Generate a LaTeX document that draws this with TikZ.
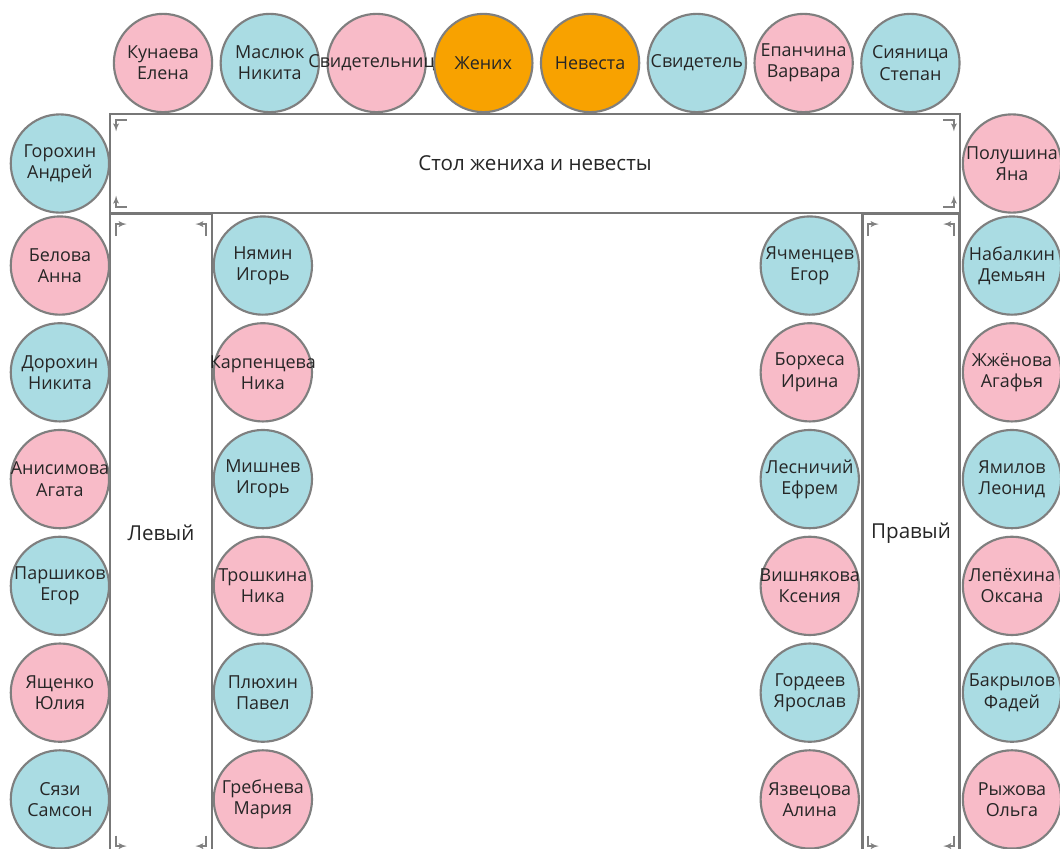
\documentclass[tikz,border=0pt]{standalone}
\usepackage{fontspec}
\newfontfamily\opensans{Open Sans}
\usetikzlibrary{shapes,arrows,positioning}
\definecolor{seatpink}{HTML}{F8BBC8}
\definecolor{seatblue}{HTML}{AADCE3}
\definecolor{seatorange}{HTML}{F8A200}
\definecolor{seatline}{HTML}{7F7F7F}
\definecolor{tableline}{HTML}{777777}
\newcommand{\seatfont}{\opensans\fontsize{13.5}{16}\selectfont}
\newcommand{\tablefont}{\opensans\fontsize{15.5}{18}\selectfont}
\tikzstyle{guest} = [circle, draw=seatline, line width=1.6pt,
   minimum size=2.6cm, inner sep=0pt]
\tikzstyle{she} = [guest, fill=seatpink]
\tikzstyle{he} = [guest, fill=seatblue]
\tikzstyle{couple} = [guest, fill=seatorange]
\tikzstyle{guestname} = [font=\seatfont, text=black!85, align=center, inner sep=0pt]
\tikzstyle{tablebox} = [rectangle, draw=tableline, line width=2.2pt, fill=white,
   font=\tablefont, text=black!85]
\tikzstyle{grip} = [draw=gray, line width=1.1pt, -latex']

\begin{document}
\begin{tikzpicture}[node distance=2.825cm]
\useasboundingbox[fill=white] (0,0) rectangle (28.046,-22.437);
% Tables
\node [tablebox, minimum width=22.49cm, minimum height=2.62cm] (head) at (14.155,-4.326) {Стол жениха и невесты};
\node [tablebox, minimum width=2.70cm, minimum height=16.93cm] (lefttab) at (4.260,-14.102) {Левый};
\node [tablebox, minimum width=2.59cm, minimum height=16.93cm] (righttab) at (24.103,-14.102) {Правый};
% Corner grips
\draw [grip] ([shift={(0.48,-0.2)}]head.north west) -- ++(-0.28,0) -- ++(0,-0.3);
\draw [grip] ([shift={(0.48,0.2)}]head.south west) -- ++(-0.28,0) -- ++(0,0.3);
\draw [grip] ([shift={(-0.48,-0.2)}]head.north east) -- ++(0.28,0) -- ++(0,-0.3);
\draw [grip] ([shift={(-0.48,0.2)}]head.south east) -- ++(0.28,0) -- ++(0,0.3);
\foreach \t in {lefttab,righttab} {
  \draw [grip] ([shift={(0.2,-0.65)}]\t.north west) -- ++(0,0.32) -- ++(0.28,0);
  \draw [grip] ([shift={(-0.2,-0.65)}]\t.north east) -- ++(0,0.32) -- ++(-0.28,0);
  \draw [grip] ([shift={(0.2,0.5)}]\t.south west) -- ++(0,-0.28) -- ++(0.28,0);
  \draw [grip] ([shift={(-0.2,0.5)}]\t.south east) -- ++(0,-0.28) -- ++(-0.28,0);
}
% Head table seats
\node [she, label={[guestname]center:Кунаева\\Елена}] (kunaeva) at (4.313,-1.667) {};
\node [he, right of=kunaeva, label={[guestname]center:Маслюк\\Никита}] (masluk) {};
\node [she, right of=masluk, label={[guestname]center:Свидетельница}] (bridesmaid) {};
\node [couple, right of=bridesmaid, label={[guestname]center:Жених}] (groom) {};
\node [couple, right of=groom, label={[guestname]center:Невеста}] (bride) {};
\node [he, right of=bride, label={[guestname]center:Свидетель}] (bestman) {};
\node [she, right of=bestman, label={[guestname]center:Епанчина\\Варвара}] (epanchina) {};
\node [he, right of=epanchina, label={[guestname]center:Сияница\\Степан}] (siyanitsa) {};
% Left table, outer side
\node [he, left of=head, node distance=12.57cm, label={[guestname]center:Горохин\\Андрей}] (gorohin) {};
\node [she, below of=gorohin, node distance=2.70cm, label={[guestname]center:Белова\\Анна}] (belova) {};
\node [he, below of=belova, label={[guestname]center:Дорохин\\Никита}] (dorohin) {};
\node [she, below of=dorohin, label={[guestname]center:Анисимова\\Агата}] (anisimova) {};
\node [he, below of=anisimova, label={[guestname]center:Паршиков\\Егор}] (parshikov) {};
\node [she, below of=parshikov, label={[guestname]center:Ященко\\Юлия}] (yashchenko) {};
\node [he, below of=yashchenko, label={[guestname]center:Сязи\\Самсон}] (syazi) {};
% Left table, inner side
\node [he, right of=belova, node distance=5.37cm, label={[guestname]center:Нямин\\Игорь}] (nyamin) {};
\node [she, below of=nyamin, label={[guestname]center:Карпенцева\\Ника}] (karpentseva) {};
\node [he, below of=karpentseva, label={[guestname]center:Мишнев\\Игорь}] (mishnev) {};
\node [she, below of=mishnev, label={[guestname]center:Трошкина\\Ника}] (troshkina) {};
\node [he, below of=troshkina, label={[guestname]center:Плюхин\\Павел}] (plyuhin) {};
\node [she, below of=plyuhin, label={[guestname]center:Гребнева\\Мария}] (grebneva) {};
% Right table, outer side
\node [she, right of=head, node distance=12.62cm, label={[guestname]center:Полушина\\Яна}] (polushina) {};
\node [he, below of=polushina, node distance=2.70cm, label={[guestname]center:Набалкин\\Демьян}] (nabalkin) {};
\node [she, below of=nabalkin, label={[guestname]center:Жжёнова\\Агафья}] (zhzhenova) {};
\node [he, below of=zhzhenova, label={[guestname]center:Ямилов\\Леонид}] (yamilov) {};
\node [she, below of=yamilov, label={[guestname]center:Лепёхина\\Оксана}] (lepyohina) {};
\node [he, below of=lepyohina, label={[guestname]center:Бакрылов\\Фадей}] (bakrylov) {};
\node [she, below of=bakrylov, label={[guestname]center:Рыжова\\Ольга}] (ryzhova) {};
% Right table, inner side
\node [he, left of=nabalkin, node distance=5.35cm, label={[guestname]center:Ячменцев\\Егор}] (yachmentsev) {};
\node [she, below of=yachmentsev, label={[guestname]center:Борхеса\\Ирина}] (borhesa) {};
\node [he, below of=borhesa, label={[guestname]center:Лесничий\\Ефрем}] (lesnichiy) {};
\node [she, below of=lesnichiy, label={[guestname]center:Вишнякова\\Ксения}] (vishnyakova) {};
\node [he, below of=vishnyakova, label={[guestname]center:Гордеев\\Ярослав}] (gordeev) {};
\node [she, below of=gordeev, label={[guestname]center:Язвецова\\Алина}] (yazvetsova) {};
\end{tikzpicture}
\end{document}
